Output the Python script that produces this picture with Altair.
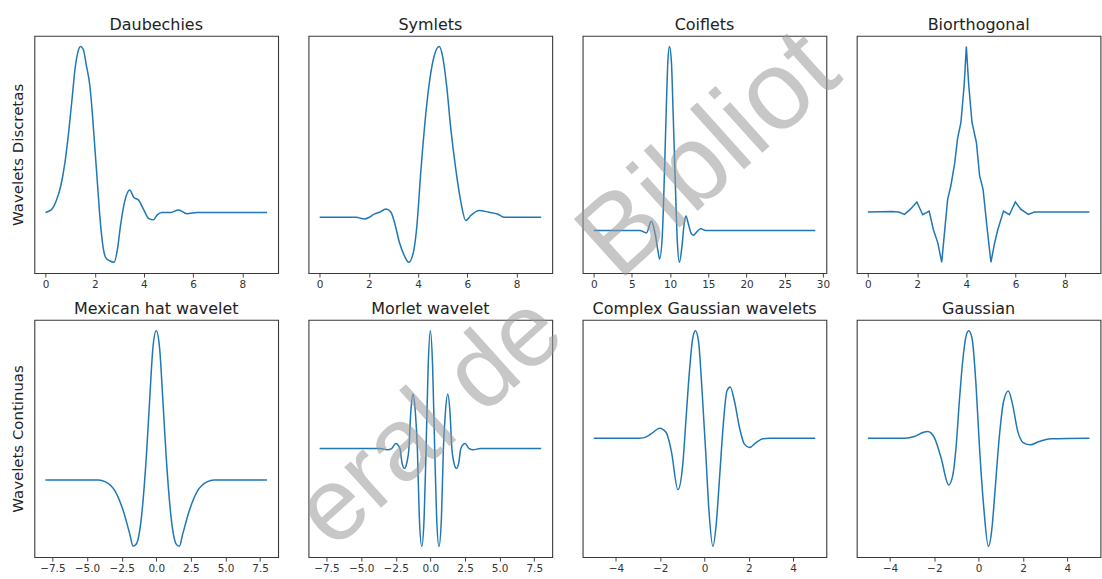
import math
import altair as alt
import pandas as pd

# ---- curve samples -------------------------------------------------------
db_x = [0.00, 0.23, 0.43, 0.63, 0.79, 0.94, 1.08, 1.20, 1.31, 1.42, 1.53, 1.66, 1.80, 1.89,
        1.98, 2.09, 2.20, 2.32, 2.44, 2.62, 2.79, 2.92, 3.06, 3.22, 3.42, 3.59, 3.78, 3.97,
        4.20, 4.38, 4.54, 4.71, 5.08, 5.41, 5.75, 6.15, 9.00]
db_y = [0.00, 0.02, 0.09, 0.22, 0.40, 0.64, 0.91, 1.15, 1.28, 1.33, 1.31, 1.18, 1.02, 0.83,
        0.59, 0.29, -0.01, -0.25, -0.36, -0.39, -0.40, -0.30, -0.09, 0.09, 0.18, 0.12, 0.10, 0.03,
        -0.05, -0.06, -0.02, 0.00, 0.00, 0.02, -0.01, 0.00, 0.00]

sym_x = [0.00, 1.48, 1.82, 2.02, 2.23, 2.43, 2.70, 2.90, 3.04, 3.24, 3.44, 3.62, 3.81, 3.94,
         4.12, 4.32, 4.48, 4.66, 4.86, 4.99, 5.16, 5.33, 5.53, 5.74, 5.94, 6.14, 6.48, 6.88,
         7.22, 7.49, 9.00]
sym_y = [0.00, 0.00, -0.016, 0.00, 0.031, 0.047, 0.078, 0.047, -0.047, -0.234, -0.359, -0.422,
         -0.328, -0.109, 0.453, 0.984, 1.297, 1.516, 1.60, 1.516, 1.234, 0.828, 0.453, 0.141,
         -0.031, 0.016, 0.0625, 0.047, 0.031, 0.00, 0.00]

coif_x = [0.00, 6.03, 6.90, 7.54, 8.10, 8.41, 8.62, 8.97, 9.27, 9.48, 9.70, 9.91, 10.17, 10.39,
          10.65, 10.95, 11.21, 11.55, 11.85, 12.07, 12.41, 12.72, 13.02, 13.58, 14.00, 14.66, 29.00]
coif_y = [0.00, 0.00, -0.018, 0.07, -0.0425, -0.155, -0.2125, -0.0425, 0.4575, 0.8825, 1.2575,
          1.375, 1.2575, 0.8825, 0.4075, -0.0925, -0.2375, -0.1175, 0.0575, 0.1075, 0.045,
          -0.0175, -0.035, -0.005, 0.0125, 0.00, 0.00]

bior_x = [0.00, 0.98, 1.25, 1.49, 1.72, 1.99, 2.23, 2.49, 2.66, 2.84, 3.00, 3.24, 3.37, 3.53,
          3.64, 3.78, 3.91, 4.00, 4.10, 4.23, 4.41, 4.54, 4.68, 4.85, 5.00, 5.15, 5.28, 5.51,
          5.75, 5.99, 6.22, 6.52, 6.76, 9.00]
bior_y = [0.00, 0.006, 0.00, -0.021, 0.024, 0.091, -0.024, 0.009, -0.158, -0.279, -0.455, 0.115,
          0.236, 0.448, 0.661, 0.812, 1.145, 1.50, 1.145, 0.812, 0.630, 0.327, 0.206, -0.158,
          -0.455, -0.279, -0.158, 0.009, -0.024, 0.091, 0.024, -0.021, 0.00, 0.00]

mex_x = [-8.00, -4.18, -3.70, -2.98, -2.39, -1.91, -1.67, -1.43, -1.07, -0.72, -0.48, -0.24, 0.00,
         0.24, 0.48, 0.72, 1.07, 1.43, 1.67, 1.91, 2.39, 2.98, 3.70, 4.18, 8.00]
mex_y = [0.00, 0.00, -0.0097, -0.064, -0.178, -0.315, -0.386, -0.371, -0.216, 0.131, 0.459, 0.768,
         0.867, 0.768, 0.459, 0.131, -0.216, -0.371, -0.386, -0.315, -0.178, -0.064, -0.0097, 0.00, 0.00]

mor_x = [-8.00, -3.60, -3.10, -2.80, -2.50, -2.20, -2.05, -1.88, -1.70, -1.55, -1.42, -1.25, -1.08,
         -0.94, -0.80, -0.62, -0.45, -0.31, -0.16, 0.00, 0.16, 0.31, 0.45, 0.62, 0.80, 0.94, 1.08,
         1.25, 1.42, 1.55, 1.70, 1.88, 2.05, 2.20, 2.50, 2.80, 3.10, 3.60, 8.00]
mor_y = [0.00, 0.00, -0.01, 0.00, 0.043, 0.00, -0.12, -0.17, -0.12, 0.00, 0.30, 0.46, 0.30,
         0.00, -0.58, -0.83, -0.58, 0.00, 0.70, 1.00, 0.70, 0.00, -0.58, -0.83, -0.58, 0.00, 0.30,
         0.46, 0.30, 0.00, -0.12, -0.17, -0.12, 0.00, 0.043, 0.00, -0.01, 0.00, 0.00]

cgau_x = [-5.00, -2.93, -2.63, -2.33, -2.03, -1.73, -1.50, -1.20, -0.98, -0.83, -0.68, -0.53, -0.41,
          -0.27, -0.11, 0.05, 0.20, 0.38, 0.53, 0.68, 0.86, 1.01, 1.16, 1.35, 1.58, 1.80, 2.03,
          2.33, 2.63, 2.93, 5.00]
cgau_y = [0.00, 0.00, 0.01, 0.0425, 0.075, 0.0425, -0.095, -0.3875, -0.195, 0.155, 0.505, 0.755,
          0.81, 0.73, 0.355, -0.095, -0.545, -0.815, -0.645, -0.295, 0.13, 0.355, 0.385, 0.28,
          0.08, -0.045, -0.07, -0.0325, -0.005, 0.00, 0.00]

gau_x = [-5.00, -3.35, -2.90, -2.52, -2.30, -2.00, -1.70, -1.35, -1.17, -1.02, -0.87, -0.72, -0.57,
         -0.45, -0.30, -0.12, 0.03, 0.23, 0.44, 0.59, 0.74, 0.93, 1.13, 1.34, 1.53, 1.76, 2.01,
         2.33, 2.73, 3.26, 5.00]
gau_y = [0.00, 0.00, 0.0125, 0.0425, 0.05, 0.005, -0.145, -0.3525, -0.2825, -0.07, 0.28, 0.58,
         0.7675, 0.81, 0.755, 0.405, -0.045, -0.52, -0.815, -0.695, -0.395, 0.005, 0.28, 0.355,
         0.255, 0.055, -0.0325, -0.05, -0.025, -0.005, 0.00]

ticks_0_8 = [0, 2, 4, 6, 8]
ticks_coif = [0, 5, 10, 15, 20, 25, 30]
ticks_pm75 = [-7.5, -5.0, -2.5, 0.0, 2.5, 5.0, 7.5]
ticks_pm4 = [-4, -2, 0, 2, 4]

row_titles = ["Wavelets Discretas", "Wavelets Continuas"]
watermark = ["General de", "Biblioteca"]

# ---- layout --------------------------------------------------------------
PW, PH = 244.5, 238
COL_GAP, ROW_GAP = 30, 47
X0, Y0 = 33, 33.5
CANVAS_W, CANVAS_H = 1102, 579
TITLE_OFFSET = 3
TITLE_SIZE = 16
TITLE_TOP = Y0 - TITLE_OFFSET - TITLE_SIZE   # top edge of the panel headings

BLUE = "#1f77b4"
FONT = "DejaVu Sans"
TITLE_STYLE = dict(font=FONT, fontSize=TITLE_SIZE, fontWeight="normal", color="#222222")

# diagonal watermark, laid out letter by letter along a tilted baseline
WM_SIZES = [104, 112]             # font size of each watermark word
WM_TILT = 42                      # degrees, rising to the right
WM_END_FIRST = (567.3, 337.6)     # baseline end of "General de"
WM_START_SECOND = (617.5, 280.7)  # baseline start of "Biblioteca"
ADV = {"G": 0.778, "e": 0.556, "n": 0.556, "r": 0.333, "a": 0.556, "l": 0.222, " ": 0.278,
       "d": 0.556, "B": 0.667, "i": 0.222, "b": 0.556, "o": 0.556, "t": 0.278, "c": 0.5}

ux, uy = math.cos(math.radians(WM_TILT)), -math.sin(math.radians(WM_TILT))
vx, vy = -math.sin(math.radians(WM_TILT)), -math.cos(math.radians(WM_TILT))


def layout_word(word, start, size):
    """Place the letters of one word; keep those lying wholly on the canvas."""
    placed = []
    px, py = start
    for ch in word:
        w = ADV[ch] * size
        if ch != " ":
            corners = [(px + a * ux + b * vx, py + a * uy + b * vy)
                       for a in (0, w) for b in (-0.2 * size, 0.8 * size)]
            inside = all(0 <= cx <= CANVAS_W and 0.5 <= cy <= CANVAS_H for cx, cy in corners)
            if inside:
                placed.append((ch, px, py, size, min(cy for _, cy in corners)))
        px += w * ux
        py += w * uy
    return placed


first_len = sum(ADV[c] for c in watermark[0]) * WM_SIZES[0]
first_start = (WM_END_FIRST[0] - first_len * ux, WM_END_FIRST[1] - first_len * uy)
wm_letters = (layout_word(watermark[0], first_start, WM_SIZES[0])
              + layout_word(watermark[1], WM_START_SECOND, WM_SIZES[1]))

# the figure's top edge is whichever is higher: the headings or a watermark letter
TOP_PAD = min([TITLE_TOP] + [top for *_, top in wm_letters])


def padded(lo, hi):
    span = hi - lo
    return [lo - 0.05 * span, hi + 0.05 * span]


def panel(title, xs, ys, ticks, fmt, row, col, interp="monotone", overlay=False):
    df = pd.DataFrame({"x": xs, "y": ys})
    if col == 0:
        yaxis = alt.Axis(title=row_titles[row], labels=False, ticks=False, domain=False,
                         grid=False, titleFont=FONT, titleFontSize=15,
                         titleFontWeight="normal", titleColor="#222222", titlePadding=8.5)
    else:
        yaxis = None
    line = alt.Chart(df).mark_line(color=BLUE, strokeWidth=1.5, interpolate=interp).encode(
        x=alt.X("x:Q",
                scale=alt.Scale(domain=padded(min(xs), max(xs)), nice=False, zero=False),
                axis=alt.Axis(values=ticks, format=fmt, title=None, grid=False, domain=False,
                              tickSize=4, tickColor="#444444", tickWidth=1,
                              labelFont=FONT, labelFontSize=10.5, labelColor="#333333",
                              labelPadding=2, labelFlush=False)),
        y=alt.Y("y:Q",
                scale=alt.Scale(domain=padded(min(ys), max(ys)), nice=False, zero=False),
                axis=yaxis),
    )
    layers = [line]
    props = dict(width=PW, height=PH)
    if overlay:
        # this panel also carries the tilted watermark; its heading is drawn as a
        # text mark so the heading stays pinned to the plot frame
        layers.append(
            alt.Chart(pd.DataFrame({"t": [title]})).mark_text(
                align="center", baseline="bottom", **TITLE_STYLE
            ).encode(text="t:N", x=alt.value(PW / 2), y=alt.value(-TITLE_OFFSET))
        )
        ox = X0 + col * (PW + COL_GAP)
        oy = Y0 + row * (PH + ROW_GAP)
        for ch, gx, gy, size, _ in wm_letters:
            layers.append(
                alt.Chart(pd.DataFrame({"t": [ch]})).mark_text(
                    angle=360 - WM_TILT, font="Liberation Sans", fontSize=size,
                    color="#9a9a9a", opacity=0.55, align="left", baseline="alphabetic",
                ).encode(text="t:N", x=alt.value(gx - ox), y=alt.value(gy - oy))
            )
    else:
        props["title"] = alt.TitleParams(title, offset=TITLE_OFFSET, **TITLE_STYLE)
    return alt.layer(*layers).properties(**props)


panels = [
    panel("Daubechies", db_x, db_y, ticks_0_8, "d", 0, 0),
    panel("Symlets", sym_x, sym_y, ticks_0_8, "d", 0, 1),
    panel("Coiflets", coif_x, coif_y, ticks_coif, "d", 0, 2),
    panel("Biorthogonal", bior_x, bior_y, ticks_0_8, "d", 0, 3, interp="linear"),
    panel("Mexican hat wavelet", mex_x, mex_y, ticks_pm75, ".1f", 1, 0),
    panel("Morlet wavelet", mor_x, mor_y, ticks_pm75, ".1f", 1, 1),
    panel("Complex Gaussian wavelets", cgau_x, cgau_y, ticks_pm4, "d", 1, 2),
    panel("Gaussian", gau_x, gau_y, ticks_pm4, "d", 1, 3, overlay=True),
]

chart = alt.concat(*panels, columns=4).properties(
    spacing={"row": ROW_GAP, "column": COL_GAP},
    bounds="flush",
    padding={"left": 9.5, "top": round(TOP_PAD, 1), "right": 0, "bottom": 0},
    background="white",
).configure_view(
    stroke="#3a3a3a", strokeWidth=1.1
)

chart.save("out.html", embed_options={"renderer": "svg", "actions": False})
